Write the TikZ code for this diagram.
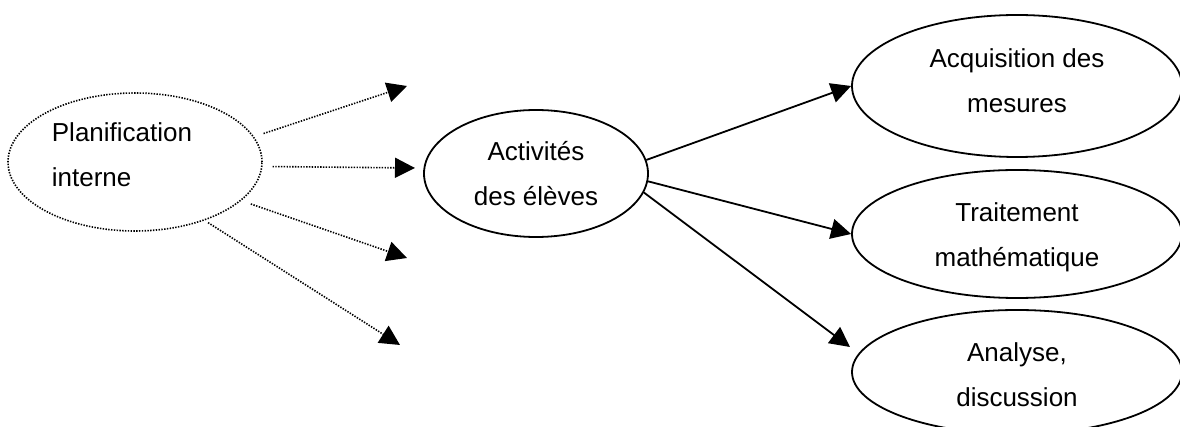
\documentclass[tikz,border=0pt]{standalone}
\usepackage{fontspec}
\setmainfont{Liberation Sans}
\usepackage{tikz}
\usetikzlibrary{positioning}
\usetikzlibrary{shapes.geometric}
\usetikzlibrary{arrows.meta}
\usepackage{xcolor}

\begin{document}
\begin{tikzpicture}[x=0.5pt, y=-0.5pt,
		oval/.style={draw, ellipse, inner sep=0pt, line width=0.9pt, align=center,
			font=\fontsize{13}{22.5}\selectfont},
		dots/.style={line width=0.8pt, dash pattern=on 0.7pt off 0.7pt},
		flow/.style={line width=0.9pt, -{Triangle[length=10pt, width=10pt]}}]
	\useasboundingbox (0, 0) rectangle (1180, 427);
	% ellipses
	\node[oval, dots, align=left, minimum width=127pt, minimum height=69pt,
		text height=32pt, text depth=7pt] (plan) at (135, 162) {Planification\hspace*{13pt}\\interne};
	\node[oval, minimum width=112pt, minimum height=63.5pt,
		text height=32.5pt, text depth=0pt] (act) at (536, 173.5) {Activités\\des élèves};
	\node[oval, minimum width=165pt, minimum height=71pt,
		text height=33pt, text depth=6pt] (acq) at (1017, 86) {Acquisition des\\mesures};
	\node[oval, minimum width=165pt, minimum height=64pt,
		text height=33pt, text depth=0pt] (trt) at (1017, 234) {Traitement\\mathématique};
	\node[oval, minimum width=165pt, minimum height=62pt,
		text height=35pt, text depth=0pt] (ana) at (1017, 372) {Analyse,\\discussion};
	% free ends
	\coordinate (e1) at (407, 86);
	\coordinate (e2) at (415, 168);
	\coordinate (e3) at (407, 258);
	\coordinate (e4) at (400, 345);
	\coordinate (anatip) at (850, 347);
	% dotted arrows
	\draw[flow, dots, shorten <=5pt] (plan.12) -- (e1);
	\draw[flow, dots, shorten <=5pt] (plan.-2.5) -- (e2);
	\draw[flow, dots, shorten <=5pt] (plan.-20) -- (e3);
	\draw[flow, dots, shorten <=2pt] (plan.-40) -- (e4);
	% solid arrows
	\draw[flow] (act.7) -- (acq.west);
	\draw[flow] (act.-4) -- (trt.west);
	\draw[flow] (act.-10) -- (anatip);
\end{tikzpicture}
\end{document}
